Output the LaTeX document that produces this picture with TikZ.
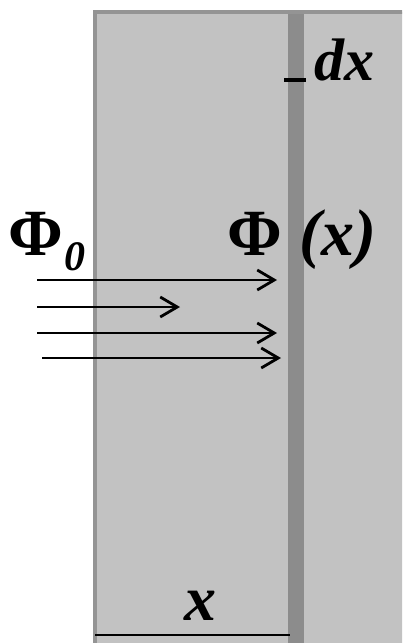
\documentclass[tikz,border=0pt]{standalone}
\usepackage{fontspec}
\setmainfont{Liberation Serif}
\usetikzlibrary{arrows.meta,positioning}

\definecolor{slabfill}{gray}{0.76}
\definecolor{slabedge}{gray}{0.58}
\definecolor{layerfill}{gray}{0.55}

\begin{document}
\begin{tikzpicture}[x=0.5pt, y=-0.5pt, >={Straight Barb[length=8.5pt, width=10pt, line width=1.4pt]},
  ray/.style={->, line width=1.4pt},
  lbl/.style={inner sep=0pt, anchor=base, font=\fontsize{33}{36}\selectfont\bfseries}]
\useasboundingbox (0,0) rectangle (402,643);
\clip (0,0) rectangle (402,643);
% slab and thin layer
\draw[fill=slabfill, draw=slabedge, line width=1.8pt] (95,12) rectangle (420,660);
\fill[layerfill] (288,14) rectangle (304,660);
\draw[line width=1.6pt] (284,80) -- (306,80);
\draw[line width=1.3pt] (95,635) -- (290,635);
% labels
\node[lbl] (phi0) at (36,255) {Φ};
\node[lbl, font=\fontsize{21}{24}\selectfont\bfseries\itshape, right=0pt of phi0.base east, anchor=base west, yshift=-7.5pt] (sub0) {0};
\node[lbl] (phix) at (302,255) {Φ \itshape(x)};
\node[lbl, font=\fontsize{30}{34}\selectfont\bfseries\itshape] (dx) at (344,80) {dx};
\node[lbl, font=\fontsize{32}{36}\selectfont\bfseries\itshape] (xlab) at (200,620) {x};
% rays
\coordinate (s1) at (37,280); \coordinate (e1) at (277,280);
\coordinate (s2) at (37,307); \coordinate (e2) at (180,307);
\coordinate (s3) at (37,333); \coordinate (e3) at (277,333);
\coordinate (s4) at (42,358); \coordinate (e4) at (281,358);
\foreach \a/\b in {s1/e1,s2/e2,s3/e3,s4/e4}{\draw[ray] (\a) -- (\b);}
\end{tikzpicture}
\end{document}
